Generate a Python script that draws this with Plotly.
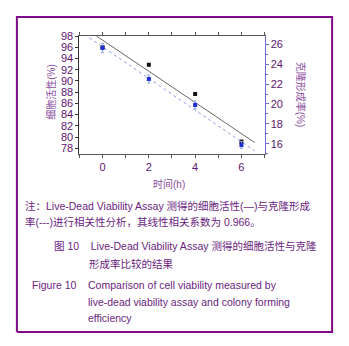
import numpy as np
import plotly.graph_objects as go

# ---- data ----
time_h = [0, 2, 4, 6]
viability = [96.0, 92.9, 87.7, 79.2]        # left axis, black squares, solid fit
colony = [25.6, 22.5, 19.9, 15.9]            # right axis, blue squares, dotted fit
colony_err = [0.45, 0.4, 0.4, 0.35]
fit_x = [-0.57, 6.57]

left_ticks = list(range(78, 100, 2))
right_ticks = list(range(16, 28, 2))
x_ticks = [0, 2, 4, 6]

# page body has an 8px margin; figure sized to fit the window exactly
OFF = 8
W, H = 349 - 2 * OFF, 346 - 2 * OFF
# frame box in window pixels -> becomes the paper area
FL, FR, FT, FB = 16, 333, 16, 333
# chart plot area in window pixels
RL, RR, RT, RB = 80, 264, 37, 154
fw, fh = FR - FL, FB - FT

def px(x):
    return (x - FL) / fw

def py(y):
    return (FB - y) / fh

PURPLE = "#5e1470"
LPURPLE = "#8a4e9e"
FRAME = "#800a8a"
FONT = "Arial, Liberation Sans, Noto Sans CJK SC, sans-serif"

k1, b1 = np.polyfit(time_h, viability, 1)
k2, b2 = np.polyfit(time_h, colony, 1)
fx = np.array(fit_x)

# frame outline drawn as a closed path on a full-paper helper axis pair
box_x = [0, 1, 1, 0, 0]
box_y = [0, 0, 1, 1, 0]

fig = go.Figure()
fig.add_trace(go.Scatter(x=box_x, y=box_y, xaxis="x3", yaxis="y3", mode="lines",
                         line=dict(color=FRAME, width=2), hoverinfo="skip", showlegend=False))
fig.add_trace(go.Scatter(x=fx, y=k1 * fx + b1, mode="lines",
                         line=dict(color="#666666", width=1), showlegend=False))
fig.add_trace(go.Scatter(x=fx, y=k2 * fx + b2, mode="lines", yaxis="y2",
                         line=dict(color="#8e9be6", width=1, dash="dot"), showlegend=False))
fig.add_trace(go.Scatter(x=time_h, y=viability, mode="markers",
                         marker=dict(symbol="square", size=4, color="#111111"), showlegend=False))
fig.add_trace(go.Scatter(x=time_h, y=colony, mode="markers", yaxis="y2",
                         error_y=dict(type="data", array=colony_err, color="#8fa3f0", thickness=1, width=1.5),
                         marker=dict(symbol="square", size=4, color="#1c2fd0"), showlegend=False))

fig.update_layout(
    width=W, height=H,
    margin=dict(l=FL - OFF - 1, r=W - (FR - OFF) - 1, t=FT - OFF - 1, b=H - (FB - OFF) - 1,
                autoexpand=False),
    paper_bgcolor="white", plot_bgcolor="rgba(0,0,0,0)",
    font=dict(family=FONT, color=PURPLE, size=11),
    xaxis=dict(domain=[px(RL), px(RR)], range=[-1, 7], tickvals=x_ticks, showgrid=False,
               zeroline=False, automargin=False,
               showline=True, linecolor="#555555", linewidth=1, mirror="ticks",
               ticks="outside", ticklen=3, tickcolor="#555555",
               minor=dict(dtick=1, tick0=1, ticks="outside", ticklen=3, tickcolor="#555555"),
               tickfont=dict(size=11, color=PURPLE)),
    yaxis=dict(domain=[py(RB), py(RT)], range=[77, 98], tickvals=left_ticks, showgrid=False,
               zeroline=False, automargin=False,
               showline=True, linecolor="#333333", linewidth=1,
               ticks="outside", ticklen=3, tickcolor="#333333",
               tickfont=dict(size=11, color=PURPLE)),
    yaxis2=dict(range=[15, 26.8], tickvals=right_ticks, overlaying="y", side="right", automargin=False,
                showgrid=False, zeroline=False, showline=True, linecolor="#6f6fd8", linewidth=1,
                ticks="outside", ticklen=3, tickcolor="#6f6fd8",
                minor=dict(dtick=1, ticks="outside", ticklen=2, tickcolor="#6f6fd8"),
                tickfont=dict(size=11, color=PURPLE)),
    xaxis3=dict(domain=[0, 1], anchor="y3", range=[-0.006, 1.006], visible=False, fixedrange=True),
    yaxis3=dict(domain=[0, 1], anchor="x3", range=[-0.006, 1.006], visible=False, fixedrange=True),
)

# axis titles
fig.add_annotation(x=px(52), y=py(92), xref="paper", yref="paper", text="细胞活性(%)",
                   xanchor="center", yanchor="middle",
                   textangle=-90, showarrow=False, font=dict(size=10, color=LPURPLE))
fig.add_annotation(x=px(300), y=py(95), xref="paper", yref="paper", text="克隆形成率(%)",
                   xanchor="center", yanchor="middle",
                   textangle=90, showarrow=False, font=dict(size=10, color=LPURPLE))
fig.add_annotation(x=px(169), y=py(184), xref="paper", yref="paper", text="时间(h)",
                   xanchor="center", yanchor="middle",
                   showarrow=False, font=dict(size=10, color=LPURPLE))

texts = [
    (24, 206, "注：Live-Dead Viability Assay 测得的细胞活性(—)与克隆形成", 10.5),
    (24, 222, "率(---)进行相关性分析，其线性相关系数为 0.966。", 10.5),
    (53, 246, "图 10    Live-Dead Viability Assay 测得的细胞活性与克隆", 10.5),
    (88, 263, "形成率比较的结果", 10.5),
    (31, 284, "Figure 10    Comparison of cell viability measured by", 10.5),
    (87, 301, "live-dead viability assay and colony forming", 10.5),
    (87, 317, "efficiency", 10.5),
]
for x, y, t, s in texts:
    fig.add_annotation(x=px(x), y=py(y), xref="paper", yref="paper", text=t,
                       xanchor="left", yanchor="middle", showarrow=False,
                       font=dict(size=s, color="#6a1d7e", family=FONT))

fig.write_html("out.html")
